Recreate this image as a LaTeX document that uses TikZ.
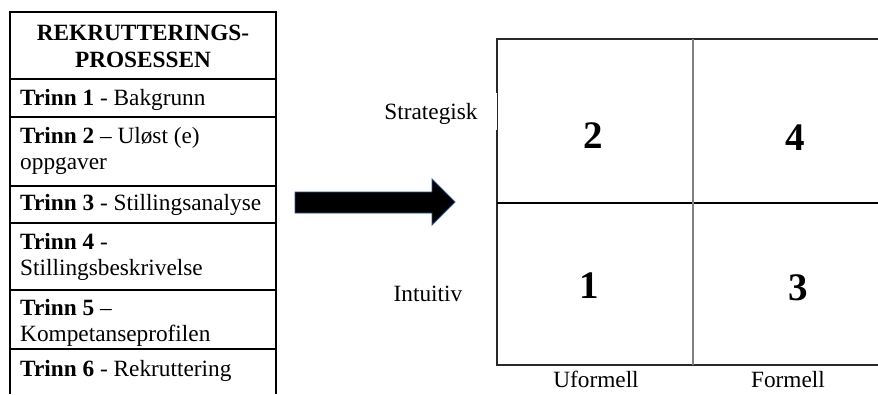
\documentclass[tikz,border=0pt]{standalone}
\usepackage{fontspec}
\setmainfont{Liberation Serif}
\definecolor{arrowedge}{RGB}{47,82,143}
\definecolor{midgrey}{RGB}{128,128,128}
\definecolor{gridline}{RGB}{40,40,40}
\tikzset{
  txt/.style={inner sep=0pt, font=\fontsize{23.3}{26}\selectfont},
  rowtxt/.style={txt, anchor=base west},
  num/.style={inner sep=0pt, anchor=base, font=\fontsize{39}{40}\selectfont\bfseries},
  tabline/.style={line width=1.3pt, black},
  gridframe/.style={line width=1.5pt, gridline},
}
\begin{document}
\begin{tikzpicture}[x=1pt,y=-1pt]
\useasboundingbox (0,0) rectangle (878,394);
% table
\draw[tabline] (10,394) -- (10,12) -- (276,12) -- (276,394);
\foreach \yy in {79,117,186,223,290,349}{\draw[tabline] (10,\yy) -- (276,\yy);}
\node[txt, anchor=base, font=\fontsize{23.3}{26}\selectfont\bfseries] (h1) at (143,40) {REKRUTTERINGS-};
\node[txt, anchor=base, font=\fontsize{23.3}{26}\selectfont\bfseries] (h2) at (143,67) {PROSESSEN};
\node[rowtxt] (t1) at (20,105) {\textbf{Trinn 1} - Bakgrunn};
\node[rowtxt] (t2) at (20,143) {\textbf{Trinn 2} – Uløst (e)};
\node[rowtxt] (t2b) at (20,169) {oppgaver};
\node[rowtxt] (t3) at (20,210) {\textbf{Trinn 3} - Stillingsanalyse};
\node[rowtxt] (t4) at (20,249) {\textbf{Trinn 4} -};
\node[rowtxt] (t4b) at (20,275) {Stillingsbeskrivelse};
\node[rowtxt] (t5) at (20,315) {\textbf{Trinn 5} –};
\node[rowtxt] (t5b) at (20,341) {Kompetanseprofilen};
\node[rowtxt] (t6) at (20,376) {\textbf{Trinn 6} - Rekruttering};
% arrow
\draw[fill=black, draw=arrowedge, line width=0.8pt] (295,192) -- (432,192) -- (432,179) -- (455,202) -- (432,225) -- (432,213) -- (295,213) -- cycle;
% grid
\draw[gridframe] (880,39) -- (497,39) -- (497,93);
\draw[line width=0.7pt, gridline] (497,93) -- (497,130);
\draw[gridframe] (497,130) -- (497,365) -- (880,365);
\draw[line width=1.3pt, black] (497,203) -- (880,203);
\draw[line width=1.8pt, midgrey] (693,39) -- (693,365);
% labels
\node[txt, anchor=base] (s) at (431,119) {Strategisk};
\node[txt, anchor=base] (i) at (428,301) {Intuitiv};
\node[txt, anchor=base] (u) at (596,387) {Uformell};
\node[txt, anchor=base] (f) at (788,387) {Formell};
% numbers
\node[num] (n2) at (593,148) {2};
\node[num] (n4) at (795,150) {4};
\node[num] (n1) at (589,298) {1};
\node[num] (n3) at (798,300) {3};
\end{tikzpicture}
\end{document}
